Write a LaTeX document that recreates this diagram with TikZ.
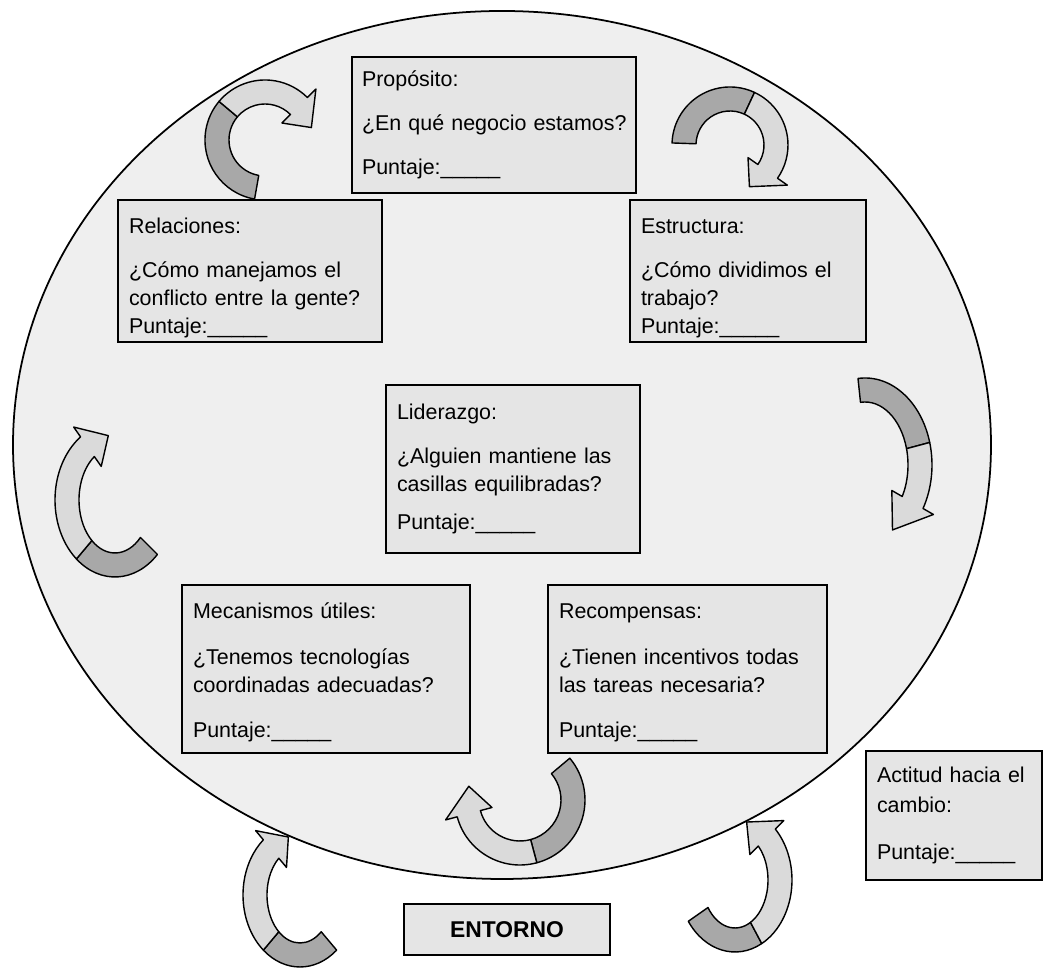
\documentclass[tikz,border=0pt]{standalone}
\usepackage{fontspec}
\setmainfont{Liberation Sans}
\usetikzlibrary{positioning}

\definecolor{grisFondo}{HTML}{EFEFEF}
\definecolor{grisCaja}{HTML}{E5E5E5}
\definecolor{grisOscuro}{HTML}{A8A8A8}
\definecolor{grisClaro}{HTML}{DADADA}

% flecha curva: centro x, centro y, radio x, radio y, angulo inicial, giro, base punta, punta
\newcommand{\flecha}[8]{%
  \begin{scope}[shift={(#1,#2)}]
    \filldraw[flechaoscura] (#5:{#3+12} and {#4+12})
      arc[start angle=#5, end angle=#6, x radius=#3+12, y radius=#4+12]
      -- (#6:{#3-12} and {#4-12})
      arc[start angle=#6, end angle=#5, x radius=#3-12, y radius=#4-12] -- cycle;
    \filldraw[flechaclara] (#6:{#3+12} and {#4+12})
      arc[start angle=#6, end angle=#7, x radius=#3+12, y radius=#4+12]
      -- (#7:{#3+24} and {#4+24}) -- (#8:#3 and #4) -- (#7:{#3-24} and {#4-24})
      -- (#7:{#3-12} and {#4-12})
      arc[start angle=#7, end angle=#6, x radius=#3-12, y radius=#4-12] -- cycle;
  \end{scope}}

\begin{document}
\begin{tikzpicture}
                      [x=0.02cm, y=0.02cm,
                      caja/.style={draw, line width=0.9pt, fill=grisCaja, align=left,
                        inner xsep=0.22cm, inner ysep=0pt, font=\fontsize{12.2}{16}\selectfont},
                      marco/.style={draw, line width=0.9pt, fill=grisCaja, align=center,
                        font=\fontsize{13}{15}\selectfont\bfseries},
                      flechaoscura/.style={draw, line width=0.8pt, fill=grisOscuro, line join=round},
                      flechaclara/.style={draw, line width=0.8pt, fill=grisClaro, line join=round}]
                      \useasboundingbox (0,0) rectangle (1046,969);

                      % fondo %
                      \draw[line width=1pt, fill=grisFondo] (502,524) ellipse [x radius=489, y radius=434];

                      % cajas %
                      \node[caja, inner xsep=0.12cm, text width=5.44cm, minimum height=2.72cm] (proposito) at (494,844)
                        {\hspace*{0.08cm}Propósito:\\[9pt] \hspace*{0.08cm}¿En qué negocio estamos?\\[9pt] \hspace*{0.08cm}Puntaje:\_\_\_\_\_};
                      \node[caja, text width=4.84cm, minimum height=2.84cm] (relaciones) at (250,698)
                        {\rule{0pt}{17pt}Relaciones:\\[9pt] ¿Cómo manejamos el\\ conflicto entre la gente?\\ Puntaje:\_\_\_\_\_};
                      \node[caja, text width=4.28cm, minimum height=2.84cm] (estructura) at (748,698)
                        {\rule{0pt}{17pt}Estructura:\\[9pt] ¿Cómo dividimos el\\ trabajo?\\ Puntaje:\_\_\_\_\_};
                      \node[caja, text width=4.64cm, minimum height=3.36cm] (liderazgo) at (513,500)
                        {Liderazgo:\\[9pt] ¿Alguien mantiene las\\ casillas equilibradas?\\[6pt] Puntaje:\_\_\_\_\_};
                      \node[caja, text width=5.32cm, minimum height=3.36cm] (mecanismos) at (326,300)
                        {\rule{0pt}{13pt}Mecanismos útiles:\\[10pt] ¿Tenemos tecnologías\\ coordinadas adecuadas?\\[10pt] Puntaje:\_\_\_\_\_};
                      \node[caja, text width=5.14cm, minimum height=3.36cm] (recompensas) at (687.5,300)
                        {\rule{0pt}{13pt}Recompensas:\\[10pt] ¿Tienen incentivos todas\\ las tareas necesaria?\\[10pt] Puntaje:\_\_\_\_\_};
                      \node[caja, text width=3.08cm, minimum height=2.58cm] (actitud) at (954,153.5)
                        {Actitud hacia el\\[1pt] cambio:\\[11pt] Puntaje:\_\_\_\_\_};
                      \node[marco, minimum width=4.12cm, minimum height=1.02cm] (entorno) at (507,39.5) {ENTORNO};

                      % flechas %
                      \flecha{265}{829}{48}{48}{260}{140}{45}{15}
                      \flecha{730}{824}{46}{46}{178}{65}{-35}{-65}
                      \flecha{865}{504}{55}{75}{96}{15}{-30}{-60}
                      \flecha{115}{469}{48}{65}{-45}{-130}{-235}{-262}
                      \flecha{520}{169}{53}{53}{40}{-75}{-165}{-195}
                      \flecha{300}{74}{45}{60}{-50}{-130}{-230}{-255}
                      \flecha{735}{89}{45}{60}{-145}{-62}{45}{75}
                    \end{tikzpicture}
\end{document}
